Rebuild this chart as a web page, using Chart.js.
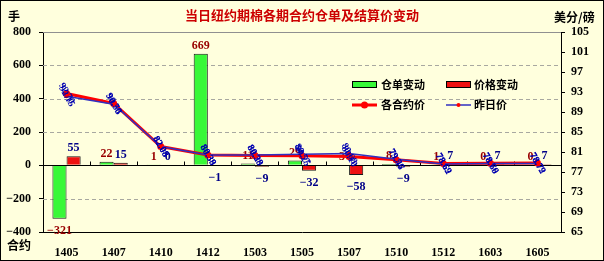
<!DOCTYPE html>
<html><head><meta charset="utf-8">
<script src="https://cdn.jsdelivr.net/npm/chart.js@4/dist/chart.umd.min.js"></script>
<style>html,body{margin:0;padding:0;background:#FFFFDD;overflow:hidden}canvas{display:block}</style>
</head><body>
<div style="width:604px;height:261px"><canvas id="c" width="604" height="261"></canvas></div>
<script>
const categories = ['1405','1407','1410','1412','1503','1505','1507','1510','1512','1603','1605'];
const warrantChange = [-321, 22, 1, 669, 11, 29, 3, 8, 1, 0, 0];
const priceChange = [55, 15, 0, -1, -9, -32, -58, -9, 7, 7, 7];
const settlePrice = [92.70, 90.70, 82.08, 80.38, 80.29, 80.25, 80.10, 79.47, 78.69, 78.76, 78.79];
const prevPrice = [92.15, 90.55, 82.08, 80.39, 80.38, 80.57, 80.68, 79.56, 78.62, 78.69, 78.72];
const leftTicks = [-400, -200, 0, 200, 400, 600, 800];
const rightTicks = [65, 69, 73, 77, 81, 85, 89, 93, 97, 101, 105];
const seriesNames = ['仓单变动', '价格变动', '各合约价', '昨日价'];
const titleText = '当日纽约期棉各期合约仓单及结算价变动';

const BG = '#FFFFDD';
const NUMFONT = 'bold 12px "Liberation Serif", serif';
const CJK = '"Noto Sans CJK SC", sans-serif';

const deco = {
  id: 'deco',
  beforeDraw(chart) {
    const ctx = chart.ctx;
    ctx.save(); ctx.fillStyle = BG; ctx.fillRect(0, 0, chart.width, chart.height); ctx.restore();
  },
  beforeDatasetsDraw(chart) {
    const { ctx, chartArea: a, scales: { x, y } } = chart;
    ctx.save();
    ctx.lineWidth = 1;
    ctx.strokeStyle = '#A8A8A0';
    ctx.setLineDash([4, 3]);
    for (const v of leftTicks) {
      if (v === 0 || v === leftTicks[0] || v === leftTicks[leftTicks.length - 1]) continue;
      const py = Math.round(y.getPixelForValue(v)) + 0.5;
      ctx.beginPath(); ctx.moveTo(a.left, py); ctx.lineTo(a.right, py); ctx.stroke();
    }
    ctx.setLineDash([]);
    ctx.strokeStyle = '#909090';
    const ty = Math.round(a.top) + 0.5;
    ctx.beginPath(); ctx.moveTo(a.left, ty); ctx.lineTo(a.right, ty); ctx.stroke();
    ctx.restore();
  },
  afterDatasetDraw(chart, args) {
    if (args.index !== 0) return;
    const { ctx, chartArea: a, scales: { x, y } } = chart;
    ctx.save();
    ctx.strokeStyle = '#000'; ctx.lineWidth = 1;
    const y0 = Math.round(y.getPixelForValue(0)) + 0.5;
    ctx.beginPath(); ctx.moveTo(a.left, y0); ctx.lineTo(a.right, y0); ctx.stroke();
    const n = categories.length;
    const step = (a.right - a.left) / n;
    for (let i = 1; i < n; i++) {
      const px = Math.round(a.left + i * step) + 0.5;
      ctx.beginPath(); ctx.moveTo(px, y0); ctx.lineTo(px, y0 - 4); ctx.stroke();
    }
    ctx.font = NUMFONT; ctx.textAlign = 'center'; ctx.textBaseline = 'middle';
    [[0, '#990000', warrantChange], [1, '#000088', priceChange]].forEach(([di, col, vals]) => {
      const meta = chart.getDatasetMeta(di);
      ctx.fillStyle = col;
      meta.data.forEach((el, i) => {
        const v = vals[i];
        const ly = v >= 0 ? el.y - 8 : el.y + 12;
        ctx.fillText(v < 0 ? '\u2212' + Math.abs(v) : String(v), el.x, ly);
      });
    });
    ctx.restore();
  },
  afterDatasetsDraw(chart) {
    const ctx = chart.ctx;
    ctx.save();
    ctx.font = 'bold 10px "Liberation Serif", serif';
    ctx.fillStyle = '#0000B0';
    ctx.textAlign = 'center'; ctx.textBaseline = 'middle';
    [[2, settlePrice], [3, prevPrice]].forEach(([di, vals]) => {
      const meta = chart.getDatasetMeta(di);
      meta.data.forEach((el, i) => {
        ctx.save();
        ctx.translate(el.x, el.y);
        ctx.rotate(Math.PI / 3);
        ctx.fillText(vals[i].toFixed(2), 0, 0);
        ctx.restore();
      });
    });
    ctx.restore();
  },
  afterDraw(chart) {
    const ctx = chart.ctx;
    ctx.save();
    ctx.font = 'bold 13px ' + CJK;
    ctx.fillStyle = '#CC0000';
    ctx.textAlign = 'center'; ctx.textBaseline = 'middle';
    ctx.fillText(titleText, 302, 15);
    ctx.fillStyle = '#000';
    ctx.font = 'bold 12px ' + CJK;
    ctx.textAlign = 'left';
    ctx.fillText('手', 8, 16);
    ctx.fillText('美分/磅', 554, 17);
    ctx.fillText('合约', 7, 245);
    const ds = chart.data.datasets;
    ctx.font = 'bold 11px ' + CJK;
    ctx.lineWidth = 1; ctx.strokeStyle = '#000';
    ctx.fillStyle = ds[0].backgroundColor; ctx.fillRect(352.5, 81.5, 24, 6); ctx.strokeRect(352.5, 81.5, 24, 6);
    ctx.fillStyle = ds[1].backgroundColor; ctx.fillRect(446.5, 81.5, 24, 6); ctx.strokeRect(446.5, 81.5, 24, 6);
    ctx.fillStyle = '#000';
    ctx.fillText(seriesNames[0], 381, 85);
    ctx.fillText(seriesNames[1], 474, 85);
    ctx.strokeStyle = ds[2].borderColor; ctx.lineWidth = 3;
    ctx.beginPath(); ctx.moveTo(352, 105); ctx.lineTo(377, 105); ctx.stroke();
    ctx.fillStyle = ds[2].pointBackgroundColor;
    ctx.beginPath(); ctx.arc(364.5, 105, 3.5, 0, Math.PI * 2); ctx.fill();
    ctx.strokeStyle = ds[3].borderColor; ctx.lineWidth = 1.5;
    ctx.beginPath(); ctx.moveTo(446, 105); ctx.lineTo(471, 105); ctx.stroke();
    ctx.fillStyle = ds[3].pointBackgroundColor;
    ctx.beginPath(); ctx.arc(458.5, 105, 2, 0, Math.PI * 2); ctx.fill();
    ctx.fillStyle = '#000';
    ctx.fillText(seriesNames[2], 381, 105);
    ctx.fillText(seriesNames[3], 474, 105);
    ctx.strokeStyle = '#000'; ctx.lineWidth = 1;
    ctx.strokeRect(0.5, 0.5, chart.width - 1, chart.height - 1);
    ctx.restore();
  }
};

new Chart(document.getElementById('c'), {
  data: {
    labels: categories,
    datasets: [
      { type: 'bar', label: seriesNames[0], data: warrantChange, yAxisID: 'y', backgroundColor: '#38F838', borderColor: '#1A1A1A', borderWidth: 1, order: 2, categoryPercentage: 0.6, barPercentage: 1.0 },
      { type: 'bar', label: seriesNames[1], data: priceChange, yAxisID: 'y', backgroundColor: '#EE1111', borderColor: '#1A1A1A', borderWidth: 1, order: 2, categoryPercentage: 0.6, barPercentage: 1.0 },
      { type: 'line', label: seriesNames[2], data: settlePrice, yAxisID: 'y1', borderColor: '#FF0000', borderWidth: 3, pointRadius: 3.5, pointBackgroundColor: '#FF0000', pointBorderColor: '#FF0000', pointBorderWidth: 0, tension: 0, order: 1 },
      { type: 'line', label: seriesNames[3], data: prevPrice, yAxisID: 'y1', borderColor: '#3030C0', borderWidth: 1.5, pointRadius: 2, pointBackgroundColor: '#FF0000', pointBorderColor: '#FF0000', pointBorderWidth: 0, tension: 0, order: 0 }
    ]
  },
  options: {
    responsive: false, animation: false, devicePixelRatio: 1,
    layout: { padding: { top: 32, left: 0, right: 0, bottom: 0 } },
    plugins: { legend: { display: false }, title: { display: false }, tooltip: { enabled: false } },
    scales: {
      x: {
        type: 'category', position: 'bottom',
        grid: { display: false },
        border: { display: true, color: '#000', width: 1 },
        ticks: { font: { family: '"Liberation Serif", serif', size: 12, weight: 'bold' }, color: '#000', padding: 6, maxRotation: 0, autoSkip: false },
        afterFit(s) { s.height = 29; }
      },
      y: {
        position: 'left', min: leftTicks[0], max: leftTicks[leftTicks.length - 1],
        afterBuildTicks(s) { s.ticks = leftTicks.map(v => ({ value: v })); },
        grid: { display: true, drawOnChartArea: false, drawTicks: true, tickLength: 4, color: '#000' },
        border: { display: true, color: '#000', width: 1 },
        ticks: { font: { family: '"Liberation Serif", serif', size: 12, weight: 'bold' }, color: '#000', padding: 8, callback: v => (v < 0 ? '\u2212' + Math.abs(v) : String(v)) },
        afterFit(s) { s.width = 43; }
      },
      y1: {
        position: 'right', min: rightTicks[0], max: rightTicks[rightTicks.length - 1],
        afterBuildTicks(s) { s.ticks = rightTicks.map(v => ({ value: v })); },
        grid: { display: true, drawOnChartArea: false, drawTicks: true, tickLength: 4, color: '#000' },
        border: { display: true, color: '#000', width: 1 },
        ticks: { font: { family: '"Liberation Serif", serif', size: 12, weight: 'bold' }, color: '#000', padding: 6 },
        afterFit(s) { s.width = 43; }
      }
    }
  },
  plugins: [deco]
});
</script>
</body></html>
